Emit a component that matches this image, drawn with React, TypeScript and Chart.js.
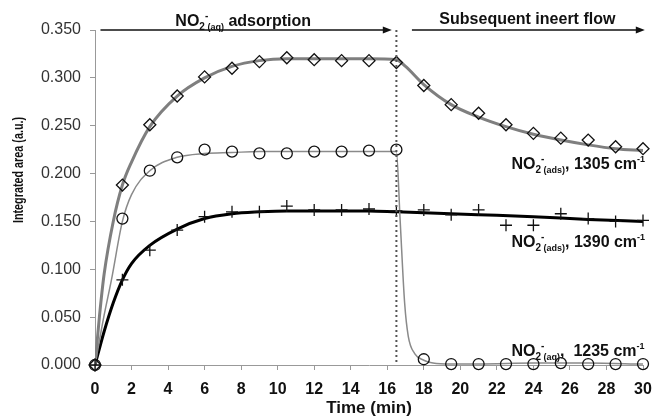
import React, { useEffect, useRef } from 'react';
import { Chart, registerables } from 'chart.js';

Chart.register(...registerables);

// Measured data (time in min, integrated area in a.u.)
const times = [0, 1.5, 3, 4.5, 6, 7.5, 9, 10.5, 12, 13.5, 15, 16.5, 18, 19.5, 21, 22.5, 24, 25.5, 27, 28.5, 30];
const ads1305 = [0, 0.188, 0.251, 0.281, 0.301, 0.310, 0.317, 0.321, 0.319, 0.318, 0.318, 0.316, 0.292, 0.272, 0.263, 0.251, 0.242, 0.237, 0.235, 0.228, 0.226];
const aq1235 = [0, 0.153, 0.203, 0.217, 0.225, 0.223, 0.221, 0.221, 0.223, 0.223, 0.224, 0.225, 0.006, 0.001, 0.001, 0.001, 0.001, 0.002, 0.001, 0.001, 0.001];
const ads1390 = [0, 0.089, 0.120, 0.141, 0.155, 0.160, 0.160, 0.166, 0.162, 0.162, 0.163, 0.161, 0.162, 0.157, 0.162, 0.146, 0.146, 0.158, 0.153, 0.150, 0.151];

// Fitted curves
const fit1305T = [0, 0.25, 0.5, 1, 1.5, 2, 3, 4.5, 6, 7.5, 9, 10.5, 12, 13.5, 15, 16.5, 17, 18, 19.5, 21, 22.5, 24, 25.5, 27, 28.5, 30];
const fit1305V = [0, 0.052, 0.095, 0.150, 0.188, 0.212, 0.249, 0.281, 0.300, 0.312, 0.318, 0.320, 0.320, 0.320, 0.320, 0.319, 0.312, 0.293, 0.272, 0.259, 0.249, 0.241, 0.235, 0.230, 0.226, 0.224];
const fit1235T = [0, 0.5, 0.9, 1.5, 2, 3, 4.5, 6, 7.5, 9, 12, 15, 16.5, 16.7, 16.95, 17.15, 17.5, 18, 18.5, 19.5, 21, 24, 27, 30];
const fit1235V = [0, 0.052, 0.089, 0.150, 0.178, 0.203, 0.217, 0.221, 0.222, 0.223, 0.223, 0.223, 0.223, 0.153, 0.065, 0.030, 0.012, 0.005, 0.002, 0.001, 0.001, 0.002, 0.002, 0.001];
const fit1390T = [0, 0.5, 1, 1.5, 2, 3, 4.5, 6, 7.5, 9, 10.5, 12, 15, 16.5, 18, 21, 24, 27, 30];
const fit1390V = [0, 0.035, 0.065, 0.089, 0.106, 0.125, 0.142, 0.153, 0.158, 0.160, 0.161, 0.161, 0.161, 0.160, 0.159, 0.157, 0.155, 0.152, 0.150];

const xTickStep = 2;
const yTickStep = 0.05;
const switchTime = 16.5;

const FONT = "'Liberation Sans', Arial, Helvetica, sans-serif";

const pts = (xs: number[], ys: number[]) => xs.map((x, i) => ({ x, y: ys[i] }));

type Run = { t: string; size: number; dy: number; adv?: boolean };

function drawRich(ctx: CanvasRenderingContext2D, x: number, y: number, runs: Run[]) {
  let cx = x;
  for (const r of runs) {
    ctx.font = `bold ${r.size}px ${FONT}`;
    ctx.fillText(r.t, cx, y + r.dy);
    if (r.adv !== false) cx += ctx.measureText(r.t).width;
  }
}

function arrow(ctx: CanvasRenderingContext2D, x1: number, x2: number, y: number) {
  ctx.save();
  ctx.strokeStyle = '#111';
  ctx.fillStyle = '#111';
  ctx.lineWidth = 1.5;
  ctx.beginPath();
  ctx.moveTo(x1, y);
  ctx.lineTo(x2 - 6, y);
  ctx.stroke();
  ctx.beginPath();
  ctx.moveTo(x2, y);
  ctx.lineTo(x2 - 9, y - 3.5);
  ctx.lineTo(x2 - 9, y + 3.5);
  ctx.closePath();
  ctx.fill();
  ctx.restore();
}

const labelRuns = (sub: string, num: string): Run[] => [
  { t: 'NO', size: 16, dy: 0 },
  { t: '2', size: 10, dy: 4 },
  { t: '-', size: 10, dy: -7, adv: false },
  { t: ' ' + sub, size: 9, dy: 4 },
  { t: ',', size: 16, dy: 0 },
  { t: ' ' + num + ' cm', size: 16, dy: 0 },
  { t: '-1', size: 9, dy: -7 },
];

const annotations = {
  id: 'annotations',
  afterDraw(chart: any) {
    const ctx: CanvasRenderingContext2D = chart.ctx;
    const xs = chart.scales.x;
    const ys = chart.scales.y;
    const area = chart.chartArea;
    ctx.save();

    // dotted switch line
    ctx.strokeStyle = '#555';
    ctx.lineWidth = 2;
    ctx.setLineDash([2, 3]);
    const sx = xs.getPixelForValue(switchTime);
    ctx.beginPath();
    ctx.moveTo(sx, area.top);
    ctx.lineTo(sx, area.bottom);
    ctx.stroke();
    ctx.setLineDash([]);

    // arrows
    arrow(ctx, xs.getPixelForValue(0.3), xs.getPixelForValue(16.25), ys.getPixelForValue(0.35));
    arrow(ctx, xs.getPixelForValue(17.35), xs.getPixelForValue(30.1), ys.getPixelForValue(0.35));

    ctx.fillStyle = '#111';
    ctx.textBaseline = 'alphabetic';
    ctx.textAlign = 'left';
    drawRich(ctx, xs.getPixelForValue(4.4), ys.getPixelForValue(0.3542), [
      { t: 'NO', size: 16, dy: 0 },
      { t: '2', size: 10, dy: 4 },
      { t: '-', size: 10, dy: -7, adv: false },
      { t: ' (aq)', size: 9, dy: 4 },
      { t: ' adsorption', size: 16, dy: 0 },
    ]);
    ctx.textAlign = 'center';
    ctx.font = `bold 16px ${FONT}`;
    ctx.fillText('Subsequent ineert flow', xs.getPixelForValue(23.67), ys.getPixelForValue(0.3567));
    ctx.textAlign = 'left';

    const lx = xs.getPixelForValue(22.8);
    drawRich(ctx, lx, ys.getPixelForValue(0.2046), labelRuns('(ads)', '1305'));
    drawRich(ctx, lx, ys.getPixelForValue(0.1232), labelRuns('(ads)', '1390'));
    drawRich(ctx, lx, ys.getPixelForValue(0.0094), labelRuns('(aq)', ' 1235'));

    // axis titles
    ctx.textAlign = 'center';
    ctx.font = `bold 17px ${FONT}`;
    ctx.fillText('Time (min)', (area.left + area.right) / 2, 413);

    ctx.save();
    ctx.translate(23, 170);
    ctx.rotate(-Math.PI / 2);
    ctx.scale(0.72, 1);
    ctx.font = `bold 15px ${FONT}`;
    ctx.fillText('Integrated area (a.u.)', 0, 0);
    ctx.restore();

    ctx.restore();
  },
};

export default function App() {
  const ref = useRef<HTMLCanvasElement>(null);
  useEffect(() => {
    if (!ref.current) return;
    const markerCommon = {
      showLine: false,
      borderColor: '#111',
      backgroundColor: 'rgba(0,0,0,0)',
      borderWidth: 1.3,
      clip: false as any,
      order: 0,
    };
    const fitCommon = {
      showLine: true,
      pointRadius: 0,
      cubicInterpolationMode: 'monotone' as const,
      fill: false,
      order: 1,
    };
    const chart = new Chart(ref.current, {
      type: 'scatter',
      data: {
        datasets: [
          { ...markerCommon, label: 'NO2- (ads) 1305', data: pts(times, ads1305), pointStyle: 'rectRot', pointRadius: 6 },
          { ...markerCommon, label: 'NO2- (aq) 1235', data: pts(times, aq1235), pointStyle: 'circle', pointRadius: 5.5 },
          { ...markerCommon, label: 'NO2- (ads) 1390', data: pts(times, ads1390), pointStyle: 'cross', pointRadius: 6 },
          { ...fitCommon, label: 'fit 1305', data: pts(fit1305T, fit1305V), borderColor: '#7f7f7f', borderWidth: 3 },
          { ...fitCommon, label: 'fit 1235', data: pts(fit1235T, fit1235V), borderColor: '#8a8a8a', borderWidth: 1.5 },
          { ...fitCommon, label: 'fit 1390', data: pts(fit1390T, fit1390V), borderColor: '#000', borderWidth: 3 },
        ] as any,
      },
      options: {
        animation: false,
        responsive: false,
        devicePixelRatio: 1,
        layout: { padding: { top: 30, right: 11, left: 0, bottom: 0 } },
        plugins: { legend: { display: false }, tooltip: { enabled: false } },
        scales: {
          x: {
            type: 'linear',
            min: 0,
            max: 30,
            afterFit: (s: any) => { s.height = 51; s.paddingRight = 0; s.paddingLeft = 0; },
            ticks: {
              stepSize: xTickStep,
              autoSkip: false,
              maxRotation: 0,
              padding: 10,
              color: '#111',
              font: { family: FONT, size: 16, weight: 'bold' },
            },
            grid: { drawOnChartArea: false, drawTicks: true, tickLength: 5, color: '#999' },
            border: { color: '#999', width: 1 },
          },
          y: {
            type: 'linear',
            min: 0,
            max: 0.35,
            afterFit: (s: any) => { s.width = 95; },
            ticks: {
              stepSize: yTickStep,
              padding: 9,
              color: '#333',
              font: { family: FONT, size: 16 },
              callback: (v: any) => Number(v).toFixed(3),
            },
            grid: { drawOnChartArea: false, drawTicks: true, tickLength: 5, color: '#999' },
            border: { color: '#999', width: 1 },
          },
        },
      } as any,
      plugins: [annotations],
    });
    return () => chart.destroy();
  }, []);
  return (
    <div style={{ position: 'absolute', left: 0, top: 0, width: 654, height: 416, background: '#fff' }}>
      <canvas ref={ref} width={654} height={416} style={{ display: 'block' }} />
    </div>
  );
}
